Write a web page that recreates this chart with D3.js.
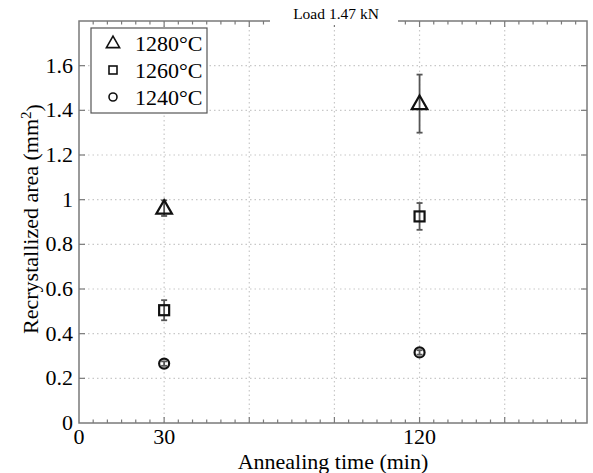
<!DOCTYPE html>
<html>
<head>
<meta charset="utf-8">
<script src="https://cdn.jsdelivr.net/npm/d3@7"></script>
<style>
  body { margin: 0; background: #fff; }
  svg { font-family: "Liberation Serif", "DejaVu Serif", serif; }
</style>
</head>
<body>
<div id="chart"></div>
<script>
// data
var times = [30, 120];
var series = ["1280°C", "1260°C", "1240°C"];
var symbols = ["triangle", "square", "circle"];
var area1280 = [0.962, 1.43];
var err1280 = [0.035, 0.13];
var area1260 = [0.505, 0.925];
var err1260 = [0.045, 0.06];
var area1240 = [0.266, 0.316];
var err1240 = [0.01, 0.01];
var xTickLabels = [0, 30, 120];
var yTickLabels = [0, 0.2, 0.4, 0.6, 0.8, 1, 1.2, 1.4, 1.6];

var allAreas = [area1280, area1260, area1240];
var allErrs = [err1280, err1260, err1240];

var W = 593, H = 473;
var margin = {top: 21, right: 6, bottom: 50, left: 79},
    width = W - margin.left - margin.right,
    height = H - margin.top - margin.bottom;

var svg = d3.select("#chart").append("svg")
    .attr("width", W).attr("height", H);
var g = svg.append("g")
    .attr("transform", "translate(" + margin.left + "," + margin.top + ")");

var x = d3.scaleLinear().domain([0, 179]).range([0, width]);
var y = d3.scaleLinear().domain([0, 1.8]).range([height, 0]);

var gridX = d3.range(30, 179, 30);
var gridY = d3.range(0.2, 1.79, 0.2);

// dotted grid
g.append("g").selectAll("line").data(gridX).enter().append("line")
  .attr("x1", function(d){ return x(d); }).attr("x2", function(d){ return x(d); })
  .attr("y1", 0).attr("y2", height)
  .attr("stroke", "#c8c8c8").attr("stroke-width", 1.2).attr("stroke-dasharray", "1.5,3");
g.append("g").selectAll("line").data(gridY).enter().append("line")
  .attr("y1", function(d){ return y(d); }).attr("y2", function(d){ return y(d); })
  .attr("x1", 0).attr("x2", width)
  .attr("stroke", "#c8c8c8").attr("stroke-width", 1.2).attr("stroke-dasharray", "1.5,3");

// frame
var axisCol = "#7a7a7a";
g.append("rect").attr("width", width).attr("height", height)
  .attr("fill", "none").attr("stroke", axisCol).attr("stroke-width", 1.5);

// x ticks (bottom + top), minor every 5 min
var minorX = d3.range(5, 179, 5);
[height, 0].forEach(function(yy){
  var dir = yy === 0 ? 1 : -1;
  g.append("g").selectAll("line").data(minorX).enter().append("line")
    .attr("x1", function(d){ return x(d); }).attr("x2", function(d){ return x(d); })
    .attr("y1", yy).attr("y2", function(d){ return yy + dir * (d % 30 === 0 ? 6 : 3.5); })
    .attr("stroke", axisCol).attr("stroke-width", 1.2);
});
// y ticks (left + right)
[0, width].forEach(function(xx){
  var dir = xx === 0 ? 1 : -1;
  g.append("g").selectAll("line").data(gridY).enter().append("line")
    .attr("y1", function(d){ return y(d); }).attr("y2", function(d){ return y(d); })
    .attr("x1", xx).attr("x2", xx + dir * 6)
    .attr("stroke", axisCol).attr("stroke-width", 1.2);
});

// tick labels
g.append("g").selectAll("text").data(yTickLabels).enter().append("text")
  .attr("x", -6).attr("y", function(d){ return y(d); })
  .attr("dy", "0.32em").attr("text-anchor", "end")
  .style("font-size", "22px")
  .text(function(d){ return d3.format("")(d); });
g.append("g").selectAll("text").data(xTickLabels).enter().append("text")
  .attr("x", function(d){ return x(d); }).attr("y", height + 21)
  .attr("text-anchor", "middle")
  .style("font-size", "22px")
  .text(function(d){ return d; });

// axis labels
g.append("text")
  .attr("x", width / 2).attr("y", height + 45.5)
  .attr("text-anchor", "middle").style("font-size", "22px")
  .text("Annealing time (min)");
var yl = g.append("text")
  .attr("transform", "translate(-41," + (height / 2 - 3) + ") rotate(-90)")
  .attr("text-anchor", "middle").style("font-size", "22px");
yl.append("tspan").text("Recrystallized area (mm");
yl.append("tspan").attr("dy", "-0.45em").style("font-size", "15px").text("2");
yl.append("tspan").attr("dy", "0.45em").text(")");

// title breaking the top border
g.append("rect").attr("x", 191).attr("y", -4).attr("width", 128).attr("height", 8).attr("fill", "#fff");
g.append("text").attr("x", 257).attr("y", -2)
  .attr("text-anchor", "middle").style("font-size", "15.5px")
  .text("Load 1.47 kN");

// markers
function marker(sel, type, s) {
  if (type === "triangle") {
    sel.append("path").attr("d", "M0," + (-s * 0.62) + "L" + (s * 0.6) + "," + (s * 0.42) + "L" + (-s * 0.6) + "," + (s * 0.42) + "Z");
  } else if (type === "square") {
    sel.append("rect").attr("x", -s / 2).attr("y", -s / 2).attr("width", s).attr("height", s);
  } else {
    sel.append("circle").attr("r", s / 2);
  }
}

series.forEach(function(name, i){
  var pts = times.map(function(t, j){ return {t: t, v: allAreas[i][j], e: allErrs[i][j]}; });
  var sg = g.append("g");
  // error bars
  pts.forEach(function(p){
    var eg = sg.append("g").attr("stroke", "#555").attr("stroke-width", 1.8);
    eg.append("line").attr("x1", x(p.t)).attr("x2", x(p.t)).attr("y1", y(p.v - p.e)).attr("y2", y(p.v + p.e));
    [p.v - p.e, p.v + p.e].forEach(function(v){
      eg.append("line").attr("x1", x(p.t) - 3).attr("x2", x(p.t) + 3).attr("y1", y(v)).attr("y2", y(v));
    });
  });
  pts.forEach(function(p){
    var m = sg.append("g").attr("transform", "translate(" + x(p.t) + "," + y(p.v) + ")")
      .attr("fill", "none").attr("stroke", "#111").attr("stroke-width", 2.2);
    marker(m, symbols[i], symbols[i] === "triangle" ? 13 : 10);
  });
});

// legend
var lg = g.append("g").attr("transform", "translate(12,7)");
lg.append("rect").attr("width", 116).attr("height", 85)
  .attr("fill", "#fff").attr("stroke", "#555").attr("stroke-width", 1.2);
series.forEach(function(name, i){
  var row = lg.append("g").attr("transform", "translate(0," + (15 + i * 27) + ")");
  var m = row.append("g").attr("transform", "translate(22,0)")
    .attr("fill", "none").attr("stroke", "#111").attr("stroke-width", 1.6);
  marker(m, symbols[i], symbols[i] === "triangle" ? 11 : 8);
  row.append("text").attr("x", 44).attr("dy", "0.35em")
    .style("font-size", "22px").text(name);
});
</script>
</body>
</html>
